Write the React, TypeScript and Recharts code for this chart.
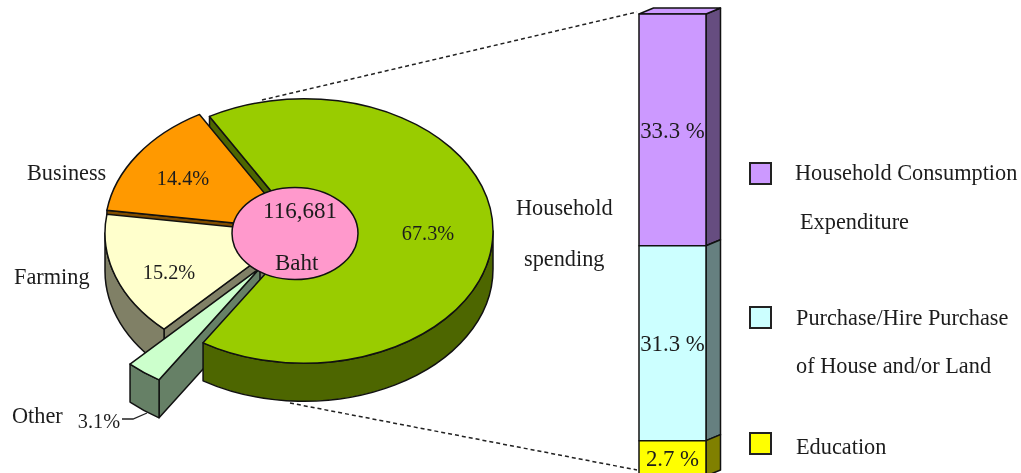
import { Bar, BarChart, LabelList, Pie, PieChart, XAxis, YAxis } from "recharts";

// spending shares, in pie order (counter-clockwise from the top left)
const pieNames = ["Business", "Farming", "Other", "Household spending"];
const pieValues = [14.4, 15.2, 3.1, 67.3];
const totalBaht = 116681;

const barNames = [
  "Household Consumption Expenditure",
  "Purchase/Hire Purchase of House and/or Land",
  "Education",
];
const barPrinted = [33.3, 31.3, 2.7];
// the source column is not to scale, so these are the heights read off the picture
const barHeights = [33.75, 28.4, 5.15];

const pieData = pieNames.map((name, i) => ({ name, value: pieValues[i] }));
const hubData = [{ name: "Total", value: totalBaht }];
const barRow = barNames.reduce<Record<string, any>>(
  (row, name, i) => ({ ...row, [name]: barHeights[i] }),
  { name: "Household spending" },
);

const FONT = '"Liberation Serif", "Times New Roman", serif';
const TEXT = "#1c1c1c";
const SQUASH = 0.7;
const DEPTH = 38;
const INK = "#111";

const sliceLook: Record<string, any> = {
  Business: { fill: "#ff9900", wall: "#804d00", dx: -6, dy: -2, tx: 183, ty: 185 },
  Farming: { fill: "#ffffcc", wall: "#808066", dx: -6, dy: 2, tx: 169, ty: 279 },
  Other: { fill: "#ccffcc", wall: "#668066", dx: -40, dy: 37, tx: 99, ty: 428 },
  "Household spending": { fill: "#99cc00", wall: "#4d6600", dx: 4, dy: 0, tx: 428, ty: 240 },
};
const barLook = [
  { fill: "#cc99ff", wall: "#664d80" },
  { fill: "#ccffff", wall: "#668080" },
  { fill: "#ffff00", wall: "#808000" },
];

const rad = (deg: number) => (deg * Math.PI) / 180;

const rim = (x: number, y: number, r: number, deg: number) => [
  x + r * Math.cos(rad(deg)),
  y - SQUASH * r * Math.sin(rad(deg)),
];

const SliceTop = (props: any) => {
  const { cx, cy, outerRadius: r, startAngle, endAngle, name } = props;
  const look = sliceLook[name];
  const x = cx + look.dx;
  const y = cy + look.dy;
  const [x0, y0] = rim(x, y, r, startAngle);
  const [x1, y1] = rim(x, y, r, endAngle);
  const large = endAngle - startAngle > 180 ? 1 : 0;
  const d = `M${x},${y}L${x0},${y0}A${r},${r * SQUASH} 0 ${large} 0 ${x1},${y1}Z`;
  return <path d={d} fill={look.fill} stroke={INK} strokeWidth={1.5} strokeLinejoin="round" />;
};

const SliceWall = (props: any) => {
  const { cx, cy, outerRadius: r, startAngle, endAngle, name } = props;
  const look = sliceLook[name];
  const x = cx + look.dx;
  const y = cy + look.dy;
  const faces: string[] = [];

  // straight cut faces that turn towards the viewer
  const cut = (deg: number) => {
    const [px, py] = rim(x, y, r, deg);
    faces.push(`M${x},${y}L${px},${py}L${px},${py + DEPTH}L${x},${y + DEPTH}Z`);
  };
  if (Math.cos(rad(startAngle)) > 0) cut(startAngle);
  if (Math.cos(rad(endAngle)) < 0) cut(endAngle);

  // curved outer wall, only the front half of the rim shows
  const from = Math.max(startAngle, 180);
  const to = Math.min(endAngle, 360);
  if (to > from) {
    const [ax, ay] = rim(x, y, r, from);
    const [bx, by] = rim(x, y, r, to);
    const ry = r * SQUASH;
    const large = to - from > 180 ? 1 : 0;
    faces.push(
      `M${ax},${ay}A${r},${ry} 0 ${large} 0 ${bx},${by}L${bx},${by + DEPTH}A${r},${ry} 0 ${large} 1 ${ax},${ay + DEPTH}Z`,
    );
  }
  return (
    <g>
      {faces.map((d, i) => (
        <path key={i} d={d} fill={look.wall} stroke={INK} strokeWidth={1.5} strokeLinejoin="round" />
      ))}
    </g>
  );
};

const Hub = (props: any) => (
  <ellipse
    cx={props.cx - 5}
    cy={props.cy + 2.5}
    rx={props.outerRadius}
    ry={46}
    fill="#ff99cc"
    stroke={INK}
    strokeWidth={1.5}
  />
);

const BAR_DX = 14.5;
const BAR_DY = -6;

// the value axis is reversed, so the library hands over a negative height
const makeBlock = (look: { fill: string; wall: string }, isTop: boolean) => (props: any) => {
  const { x, width } = props;
  const y = Math.min(props.y, props.y + props.height);
  const height = Math.abs(props.height);
  const right = x + width;
  const bottom = y + height;
  return (
    <g stroke={INK} strokeWidth={1.5} strokeLinejoin="round">
      <path
        d={`M${right},${y}L${right + BAR_DX},${y + BAR_DY}L${right + BAR_DX},${bottom + BAR_DY}L${right},${bottom}Z`}
        fill={look.wall}
      />
      {isTop && (
        <path
          d={`M${x},${y}L${x + BAR_DX},${y + BAR_DY}L${right + BAR_DX},${y + BAR_DY}L${right},${y}Z`}
          fill={look.fill}
        />
      )}
      <rect x={x} y={y} width={width} height={height} fill={look.fill} />
    </g>
  );
};

const sideLabels = [
  { text: "Business", x: 27, y: 179.5 },
  { text: "Farming", x: 14, y: 283.5 },
  { text: "Other", x: 12, y: 423 },
  { text: "Household", x: 516, y: 215 },
  { text: "spending", x: 524, y: 265.5 },
];
const hubLabels = [
  { text: "116,681", x: 263, y: 218 },
  { text: "Baht", x: 275, y: 269.5 },
];

const legendLines = [
  { text: "Household Consumption", x: 795, y: 179.5 },
  { text: "Expenditure", x: 800, y: 229 },
  { text: "Purchase/Hire Purchase", x: 796, y: 325 },
  { text: "of House and/or Land", x: 796, y: 372.5 },
  { text: "Education", x: 796, y: 454 },
];
const swatchTops = [163, 307, 433];

const App = () => (
  <div
    style={{
      position: "absolute",
      left: 0,
      top: 0,
      width: 1021,
      height: 473,
      overflow: "hidden",
      background: "#fff",
      filter: "blur(0.7px)",
    }}
  >
    <svg width={1021} height={473} style={{ position: "absolute", left: 0, top: 0 }}>
      <line x1={262} y1={100} x2={637} y2={12} stroke="#222" strokeWidth={1.5} strokeDasharray="4 3" />
      <line x1={290} y1={403} x2={637} y2={470} stroke="#222" strokeWidth={1.5} strokeDasharray="4 3" />
    </svg>

    <div style={{ position: "absolute", left: 0, top: 0 }}>
      <PieChart width={620} height={473} margin={{ top: 0, right: 0, bottom: 0, left: 0 }}>
        <Pie
          data={pieData}
          dataKey="value"
          nameKey="name"
          cx={300}
          cy={231}
          outerRadius={189}
          startAngle={120}
          endAngle={480}
          stroke="none"
          shape={SliceWall}
          isAnimationActive={false}
        />
        <Pie
          data={pieData}
          dataKey="value"
          nameKey="name"
          cx={300}
          cy={231}
          outerRadius={189}
          startAngle={120}
          endAngle={480}
          stroke="none"
          shape={SliceTop}
          isAnimationActive={false}
        />
        <Pie
          data={hubData}
          dataKey="value"
          nameKey="name"
          cx={300}
          cy={231}
          outerRadius={63}
          stroke="none"
          shape={Hub}
          isAnimationActive={false}
        />
      </PieChart>
    </div>

    <div style={{ position: "absolute", left: 621, top: 0 }}>
      <BarChart
        width={120}
        height={480}
        data={[barRow]}
        margin={{ top: 14, right: 35, bottom: 4, left: 18 }}
        barCategoryGap={0}
      >
        <XAxis dataKey="name" hide />
        <YAxis hide domain={[0, 67.3]} reversed />
        {barNames.map((name, i) => (
          <Bar
            key={name}
            dataKey={name}
            stackId="spending"
            shape={makeBlock(barLook[i], i === 0)}
            isAnimationActive={false}
          >
            <LabelList
              dataKey={name}
              position="center"
              formatter={() => `${barPrinted[i]} %`}
              style={{ fontFamily: FONT, fontSize: 22.8, fill: TEXT }}
            />
          </Bar>
        ))}
      </BarChart>
    </div>

    <svg
      width={1021}
      height={473}
      style={{ position: "absolute", left: 0, top: 0, fontFamily: FONT, fontSize: 22.3, fill: TEXT }}
    >
      {pieNames.map((name, i) => (
        <text key={name} x={sliceLook[name].tx} y={sliceLook[name].ty} textAnchor="middle" fontSize={20.3}>
          {pieValues[i]}%
        </text>
      ))}
      <polyline points="122,419 133,419 147,413" fill="none" stroke="#222" strokeWidth={1.3} />
      {sideLabels.map((l) => (
        <text key={l.text} x={l.x} y={l.y}>
          {l.text}
        </text>
      ))}
      {hubLabels.map((l) => (
        <text key={l.text} x={l.x} y={l.y} fontSize={23}>
          {l.text}
        </text>
      ))}
      {barLook.map((look, i) => (
        <rect
          key={look.fill}
          x={750}
          y={swatchTops[i]}
          width={21}
          height={21}
          fill={look.fill}
          stroke="#222"
          strokeWidth={2}
        />
      ))}
      {legendLines.map((l) => (
        <text key={l.text} x={l.x} y={l.y}>
          {l.text}
        </text>
      ))}
    </svg>
  </div>
);

export default App;
